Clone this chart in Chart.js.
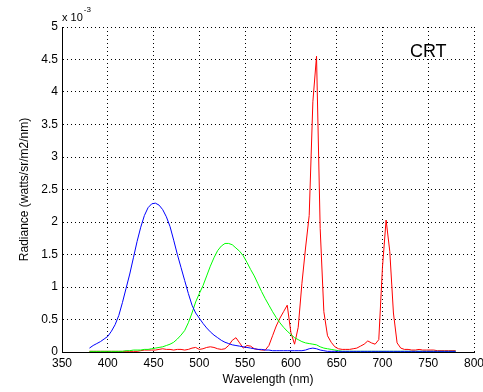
<!DOCTYPE html>
<html>
<head>
<meta charset="utf-8">
<script src="https://cdn.jsdelivr.net/npm/chart.js@4"></script>
<style>
  html, body { margin: 0; padding: 0; background: #fff; }
  canvas { display: block; }
</style>
</head>
<body>
<canvas id="crtChart" width="483" height="392"></canvas>
<script>
// wavelengths in nm, radiance in units of 1e-3 watts/sr/m2/nm
const wavelengths = [380,384,388,392,396,400,404,408,412,416,
    420,424,428,432,436,440,444,448,452,456,
    460,464,468,472,476,480,484,488,492,496,
    500,504,508,512,516,520,524,528,532,536,
    540,544,548,552,556,560,564,568,572,576,
    580,584,588,592,596,600,604,608,612,616,
    620,624,628,632,636,640,644,648,652,656,
    660,664,668,672,676,680,684,688,692,696,
    700,704,708,712,716,720,724,728,732,736,
    740,744,748,752,756,760,764,768,772,776,
    780];

const blueValues = [0.06,0.10,0.13,0.16,0.20,0.24,0.32,0.42,0.56,0.76,
    0.98,1.20,1.45,1.70,1.92,2.10,2.22,2.28,2.29,2.26,
    2.19,2.08,1.93,1.72,1.50,1.30,1.10,0.90,0.72,0.60,
    0.52,0.44,0.37,0.31,0.26,0.22,0.18,0.15,0.13,0.11,
    0.10,0.09,0.08,0.07,0.06,0.05,0.04,0.04,0.03,0.03,
    0.02,0.02,0.02,0.02,0.02,0.02,0.02,0.02,0.02,0.03,
    0.05,0.06,0.05,0.03,0.02,0.01,0.01,0.01,0.01,0.01,
    0.01,0.01,0.01,0.01,0.01,0.01,0.01,0.01,0.01,0.01,
    0.01,0.01,0.01,0.01,0.01,0.01,0.01,0.01,0.01,0.01,
    0.01,0.01,0.01,0.01,0.01,0.01,0.01,0.01,0.01,0.01,
    0.01];

const greenValues = [0.01,0.01,0.01,0.01,0.01,0.01,0.01,0.01,0.01,0.01,
    0.02,0.02,0.03,0.03,0.03,0.04,0.04,0.05,0.06,0.07,
    0.08,0.10,0.12,0.15,0.20,0.26,0.33,0.45,0.60,0.77,
    0.90,1.02,1.17,1.32,1.45,1.56,1.63,1.67,1.67,1.65,
    1.60,1.55,1.48,1.38,1.27,1.17,1.05,0.93,0.82,0.72,
    0.62,0.53,0.45,0.38,0.32,0.27,0.22,0.19,0.16,0.14,
    0.13,0.12,0.11,0.08,0.06,0.05,0.04,0.03,0.02,0.01,
    0.01,0.01,0.01,0.01,0.01,0.01,0.01,0.01,0.01,0.01,
    0.01,0.01,0.01,0.01,0.01,0.01,0.01,0.01,0.01,0.01,
    0.01,0.01,0.01,0.01,0.01,0.01,0.01,0.01,0.01,0.01,
    0.01];

const redValues = [0.01,0.01,0.01,0.01,0.01,0.01,0.01,0.01,0.01,0.01,
    0.01,0.01,0.01,0.01,0.02,0.03,0.03,0.03,0.03,0.04,
    0.05,0.04,0.04,0.03,0.04,0.04,0.03,0.04,0.06,0.07,
    0.04,0.05,0.07,0.08,0.07,0.05,0.04,0.05,0.10,0.18,
    0.22,0.14,0.06,0.10,0.09,0.05,0.04,0.03,0.03,0.10,
    0.25,0.40,0.52,0.62,0.72,0.30,0.12,0.38,1.05,1.60,
    2.10,3.85,4.55,1.90,0.62,0.25,0.15,0.08,0.05,0.04,
    0.04,0.04,0.05,0.06,0.09,0.12,0.17,0.14,0.12,0.19,
    1.30,2.03,1.55,0.60,0.14,0.06,0.04,0.04,0.03,0.03,
    0.04,0.03,0.03,0.03,0.03,0.02,0.02,0.02,0.02,0.02,
    0.02];

const xTickValues = [350,400,450,500,550,600,650,700,750,800];
const yTickValues = [0,0.5,1,1.5,2,2.5,3,3.5,4,4.5,5];
const crtLabel = { text: 'CRT', x: 750, y: 4.62 };

const FONT = '"Liberation Sans", Arial, sans-serif';
Chart.defaults.font.family = FONT;
Chart.defaults.font.size = 12;
Chart.defaults.color = '#000';

function toPoints(values) {
    return wavelengths.map((w, i) => ({ x: w, y: values[i] }));
}

const extraText = {
    id: 'extraText',
    afterDraw(chart) {
        const { ctx, scales: { x, y } } = chart;
        ctx.save();
        ctx.fillStyle = '#000';
        ctx.textAlign = 'left';
        ctx.textBaseline = 'alphabetic';
        ctx.font = '11px ' + FONT;
        ctx.fillText('x 10', x.left, y.top - 6);
        const w = ctx.measureText('x 10').width;
        ctx.font = '8px ' + FONT;
        ctx.fillText('-3', x.left + w + 1, y.top - 15);
        ctx.font = '18px ' + FONT;
        ctx.textAlign = 'center';
        ctx.textBaseline = 'middle';
        ctx.fillText(crtLabel.text, x.getPixelForValue(crtLabel.x), y.getPixelForValue(crtLabel.y));
        ctx.restore();
    }
};

const ctx = document.getElementById('crtChart').getContext('2d');
new Chart(ctx, {
    type: 'line',
    data: {
        datasets: [
            { data: toPoints(blueValues), borderColor: '#0000ff' },
            { data: toPoints(greenValues), borderColor: '#00ff00' },
            { data: toPoints(redValues), borderColor: '#ff0000' }
        ]
    },
    options: {
        responsive: false,
        animation: false,
        devicePixelRatio: 1,
        elements: {
            line: { borderWidth: 1, tension: 0, fill: false },
            point: { radius: 0 }
        },
        layout: { padding: { top: 27, right: 9, left: 0, bottom: 0 } },
        plugins: {
            legend: { display: false },
            tooltip: { enabled: false }
        },
        scales: {
            x: {
                type: 'linear',
                min: 350,
                max: 800,
                afterBuildTicks: s => { s.ticks = xTickValues.map(v => ({ value: v })); },
                afterFit: s => { s.height = 40; s.paddingLeft = 0; s.paddingRight = 0; },
                grid: { color: '#000', lineWidth: 1, drawTicks: false },
                border: { color: '#000', width: 1, dash: [1, 3] },
                ticks: { padding: 4, maxRotation: 0, callback: v => String(v) },
                title: { display: true, text: 'Wavelength (nm)', padding: { top: 0, bottom: 5 } }
            },
            y: {
                min: 0,
                max: 5,
                afterBuildTicks: s => { s.ticks = yTickValues.map(v => ({ value: v })); },
                afterFit: s => { s.width = 62; },
                grid: { color: '#000', lineWidth: 1, drawTicks: false },
                border: { color: '#000', width: 1, dash: [1, 3] },
                ticks: { padding: 4, callback: v => String(v) },
                title: { display: true, text: 'Radiance (watts/sr/m2/nm)', padding: { top: 17, bottom: 0 } }
            }
        }
    },
    plugins: [extraText]
});
</script>
</body>
</html>
